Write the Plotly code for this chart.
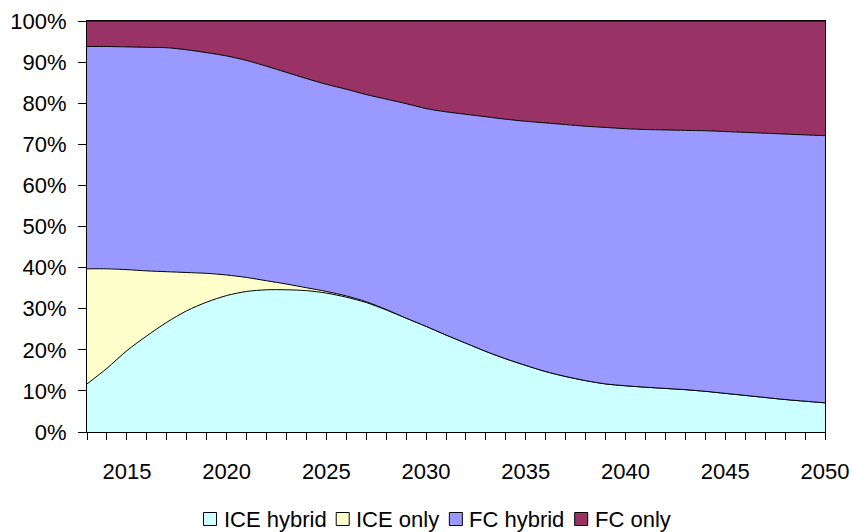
import plotly.graph_objects as go

years = list(range(2013, 2051))

ice_hybrid = [11.7, 15.5, 19.8, 23.4, 26.7, 29.5, 31.6, 33.2, 34.2, 34.6,
              34.6, 34.4, 33.8, 32.8, 31.5, 29.7, 27.7, 25.7, 23.6, 21.6,
              19.6, 17.8, 16.2, 14.7, 13.5, 12.5, 11.7, 11.25, 10.9, 10.6,
              10.3, 9.9, 9.4, 8.9, 8.4, 7.9, 7.5, 7.1]

ice_only = [28.0, 24.2, 19.7, 15.8, 12.3, 9.3, 7.0, 5.0, 3.4, 2.2,
            1.4, 0.7, 0.4, 0.3, 0.2, 0.1, 0.0, 0.0, 0.0, 0.0,
            0.0, 0.0, 0.0, 0.0, 0.0, 0.0, 0.0, 0.0, 0.0, 0.0,
            0.0, 0.0, 0.0, 0.0, 0.0, 0.0, 0.0, 0.0]

fc_hybrid = [54.1, 54.1, 54.2, 54.4, 54.5, 54.2, 53.7, 53.3, 52.8, 52.2,
             51.5, 50.9, 50.4, 50.3, 50.4, 51.2, 52.2, 53.0, 54.3, 55.7,
             57.1, 58.3, 59.4, 60.5, 61.3, 61.9, 62.4, 62.55, 62.7, 62.9,
             63.1, 63.4, 63.7, 64.0, 64.3, 64.6, 64.8, 65.0]

fc_only = [6.2, 6.2, 6.3, 6.4, 6.5, 7.0, 7.7, 8.5, 9.6, 11.0,
           12.5, 14.0, 15.4, 16.6, 17.9, 19.0, 20.1, 21.3, 22.1, 22.7,
           23.3, 23.9, 24.4, 24.8, 25.2, 25.6, 25.9, 26.2, 26.4, 26.5,
           26.6, 26.7, 26.9, 27.1, 27.3, 27.5, 27.7, 27.9]

names = ["ICE hybrid", "ICE only", "FC hybrid", "FC only"]
colors = ["#CCFFFF", "#FFFFCC", "#9999FF", "#993366"]
values = [ice_hybrid, ice_only, fc_hybrid, fc_only]

x_labels = [2015, 2020, 2025, 2030, 2035, 2040, 2045, 2050]
y_ticks = list(range(0, 101, 10))

FS = 22
W, H = 852, 532
L, R, T, B = 87, 27, 21, 100
PW, PH = W - L - R, H - T - B

fig = go.Figure()
for name, vals, color in zip(names, values, colors):
    fig.add_trace(go.Scatter(
        x=years, y=vals, name=name, mode="lines",
        stackgroup="one", showlegend=False,
        line=dict(color="black", width=1, shape="spline", smoothing=0.8),
        fillcolor=color,
    ))

font = dict(family="Liberation Sans, Arial, sans-serif", size=FS, color="black")

# manual legend (square swatch + text), laid out in pixels
cw = {"I": .278, "C": .722, "E": .667, " ": .278, "h": .556, "y": .5, "b": .556,
      "r": .333, "i": .222, "d": .556, "o": .556, "n": .556, "l": .222, "F": .611}
sq, gap1, gap2 = 13, 5, 12
widths = [sum(cw.get(c, .55) for c in n) * FS for n in names]
total = sum(widths) + len(names) * (sq + gap1) + (len(names) - 1) * gap2
cx, cy = 436, 519
px = cx - total / 2
def xp(p):
    return (p - L) / PW
def yp(p):
    return (H - B - p) / PH
shapes, annots = [], []
for n, c, w in zip(names, colors, widths):
    shapes.append(dict(type="rect", xref="paper", yref="paper",
                       x0=xp(px), x1=xp(px + sq), y0=yp(cy + sq / 2), y1=yp(cy - sq / 2),
                       fillcolor=c, line=dict(color="black", width=1)))
    annots.append(dict(xref="paper", yref="paper", x=xp(px + sq + gap1), y=yp(cy),
                       xanchor="left", yanchor="middle", text=n, showarrow=False,
                       font=font))
    px += sq + gap1 + w + gap2

fig.update_layout(
    width=W, height=H,
    margin=dict(l=L, r=R, t=T, b=B),
    paper_bgcolor="white", plot_bgcolor="white",
    font=font, showlegend=False,
    shapes=shapes, annotations=annots,
    xaxis=dict(
        range=[2013, 2050], tickvals=x_labels, ticktext=[str(v) for v in x_labels],
        ticks="outside", ticklen=7, tickcolor="black", tickwidth=1,
        minor=dict(dtick=1, tick0=2013, ticks="outside", ticklen=7, tickcolor="black", showgrid=False),
        showline=True, linecolor="black", linewidth=1, mirror=True,
        showgrid=False, zeroline=False, ticklabelstandoff=13,
        automargin=False, ticklabeloverflow="allow",
    ),
    yaxis=dict(
        range=[0, 100], tickvals=y_ticks, ticktext=[f"{v}%" for v in y_ticks],
        ticks="outside", ticklen=8, tickcolor="black",
        showline=True, linecolor="black", linewidth=1, mirror=True,
        showgrid=False, zeroline=False, ticklabelstandoff=7,
        automargin=False, ticklabeloverflow="allow",
    ),
)

fig.write_html("out.html", config={"displayModeBar": False},
               post_script="document.body.style.margin='0';document.body.style.overflow='hidden';")
